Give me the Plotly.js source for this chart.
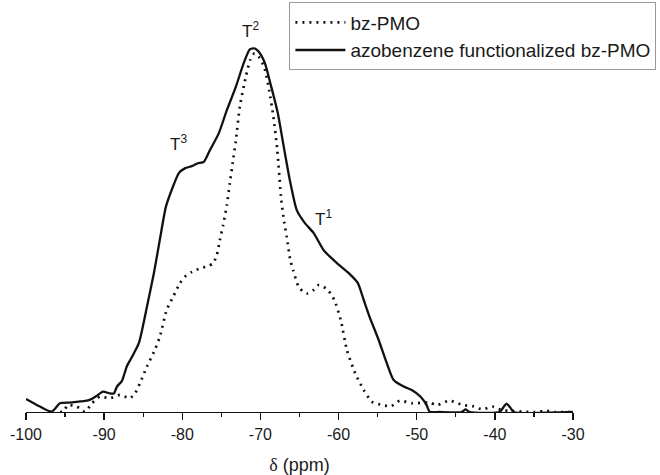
<!DOCTYPE html>
<html>
<head>
<meta charset="utf-8">
<script src="https://cdn.plot.ly/plotly-3.0.1.min.js"></script>
<style>html,body{margin:0;padding:0;background:#fff;}#chart{width:660px;height:475px;}</style>
</head>
<body>
<div id="chart"></div>
<script>
// bz-PMO (dotted)
const bzPpm = [-95.65,-95.23,-94.63,-93.48,-92.46,-91.56,-90.54,-89.26,-87.98,-86.70,-86.06,-85.42,-84.53,-83.63,-82.87,-82.01,-81.17,-80.31,-79.67,-78.78,-77.75,-76.73,-76.05,-75.58,-75.19,-74.77,-74.30,-73.92,-73.53,-73.15,-72.64,-71.87,-71.31,-70.77,-70.23,-69.52,-68.88,-68.34,-67.84,-67.33,-66.95,-66.63,-66.18,-65.82,-65.12,-64.58,-63.94,-63.23,-62.54,-61.90,-61.35,-60.54,-59.72,-58.93,-57.86,-56.77,-55.70,-54.35,-53.28,-52.18,-50.52,-48.35,-47.45,-45.79,-44.11,-42.85,-41.57,-40.29,-39.14,-37.74,-36.46,-34.92,-33.39,-32.36,-30.0];
const bzInt = [0,0.1,1.9,1.5,0.1,2.4,4.2,3.8,4.7,3.8,5.1,7.9,12.5,16.5,20.7,28.0,31.7,35.4,37.2,38.5,39.5,40.1,40.9,43.2,47.3,51.4,56.9,62.9,68.8,74.5,83.9,92.2,96.8,98.6,97.7,94.9,88.5,81.2,72.0,58.3,52.2,48.1,41.8,39.0,34.5,33.2,32.6,33.5,34.9,34.4,33.5,30.8,25.3,17.0,10.6,6.0,2.8,1.9,1.6,3.1,2.4,2.6,1.9,3.1,1.9,1.6,0.7,1.5,0.5,0.3,0.1,0,0.3,0,0];
// azobenzene functionalized bz-PMO (solid)
const azoPpm = [-100,-98.21,-96.71,-95.65,-94.37,-93.10,-92.20,-91.43,-90.92,-90.15,-89.26,-88.75,-88.36,-87.73,-87.09,-86.45,-85.55,-84.53,-83.63,-82.88,-82.10,-81.26,-80.44,-79.67,-78.78,-78.01,-77.24,-76.47,-75.32,-74.30,-73.15,-72.13,-71.36,-70.77,-70.21,-69.44,-68.61,-67.78,-67.01,-66.24,-65.35,-64.33,-63.18,-61.90,-60.24,-58.70,-57.55,-56.78,-56.02,-54.87,-53.84,-52.95,-51.67,-50.58,-49.50,-48.73,-48.35,-47.07,-44.25,-43.74,-43.23,-39.39,-38.88,-38.50,-37.99,-37.60,-30.0];
const azoInt = [3.6,1.5,0.1,2.4,2.6,2.9,3.1,3.8,4.5,5.6,5.1,5.1,7.0,8.5,12.6,15.1,19.0,28.9,38.2,47.3,56.4,61.6,65.7,67.0,67.6,68.4,68.8,72.0,76.7,83.0,89.4,96.0,99.7,100,99.1,96.0,89.4,82.2,72.9,63.8,55.5,52.0,49.2,44.5,41.0,38.2,35.5,30.8,26.1,19.8,13.5,8.8,7.0,6.0,4.2,1.9,0.1,0,0,0.7,0,0,1.4,2.3,1.1,0,0];
const seriesNames = ['bz-PMO','azobenzene functionalized bz-PMO'];
const peakLabels = ['T<sup>3</sup>','T<sup>2</sup>','T<sup>1</sup>'];
const peakPpm = [-80.45,-71.3,-61.9];
const peakInt = [74,105,53.3];
const tickVals = [-100,-90,-80,-70,-60,-50,-40,-30];
const tickText = ['-100','-90','-80','-70','-60','-50','-40','-30'];

const FONT = 'Liberation Sans, Arial, sans-serif';
const traces = [
  {x: bzPpm, y: bzInt, name: seriesNames[0], mode: 'lines', type: 'scatter',
   line: {color: '#111', width: 2.7, dash: '2px,5px', shape: 'spline', smoothing: 0.6}},
  {x: azoPpm, y: azoInt, name: seriesNames[1], mode: 'lines', type: 'scatter',
   line: {color: '#111', width: 2.3, shape: 'spline', smoothing: 0.6}}
];
const layout = {
  width: 660, height: 475,
  margin: {l: 26, r: 86.5, t: 0, b: 63, autoexpand: false},
  paper_bgcolor: '#fff', plot_bgcolor: '#fff',
  font: {family: FONT, color: '#1a1a1a', size: 16},
  showlegend: true,
  legend: {x: 1.1525, xanchor: 'right', y: 0.994, yanchor: 'top',
    bordercolor: '#999', borderwidth: 1, bgcolor: '#fff',
    font: {family: FONT, size: 19, color: '#1a1a1a'}, itemwidth: 50, tracegroupgap: 0},
  xaxis: {range: [-100, -30], tickvals: tickVals, ticktext: tickText, ticks: 'outside', ticklen: 7, tickwidth: 1.3,
    tickcolor: '#111', showline: true, linecolor: '#111', linewidth: 1.3, showgrid: false, zeroline: false,
    tickfont: {family: FONT, size: 16, color: '#1a1a1a'},
    minor: {dtick: 5, tick0: -95, ticks: 'outside', ticklen: 4, tickcolor: '#111', tickwidth: 1.3, showgrid: false},
    title: {text: '<span style="font-family:Liberation Serif">δ</span> (ppm)', font: {family: FONT, size: 18, color: '#1a1a1a'}, standoff: 17}},
  yaxis: {visible: false, range: [0, 113.3], fixedrange: true},
  annotations: peakLabels.map((t, i) => ({x: peakPpm[i], y: peakInt[i], text: t, showarrow: false,
    font: {family: FONT, size: 17, color: '#1a1a1a'}, xanchor: 'center', yanchor: 'middle'}))
};
Plotly.newPlot('chart', traces, layout, {displayModeBar: false, staticPlot: true});
</script>
</body>
</html>
